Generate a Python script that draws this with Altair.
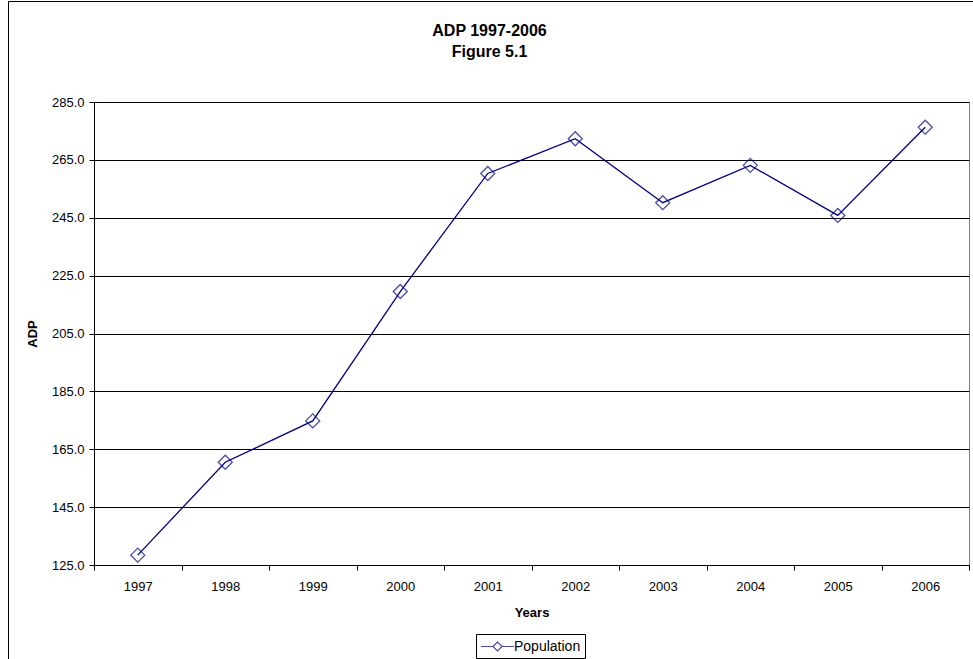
import altair as alt
import pandas as pd

# Average daily population by year
years = ["1997", "1998", "1999", "2000", "2001", "2002", "2003", "2004", "2005", "2006"]
adp = [128.4, 160.5, 174.8, 219.5, 260.3, 272.3, 250.2, 263.1, 245.8, 276.3]
series = ["Population"] * len(years)

y_ticks = [125, 145, 165, 185, 205, 225, 245, 265, 285]

df = pd.DataFrame({"Year": years, "ADP": adp, "Series": series})

FONT = "Liberation Sans"
NAVY = "#000080"

# legend glyph: a line segment with an open diamond in the middle,
# drawn wider than the nominal symbol box so the row stays compact
legend_glyph = "M-2.2,0L-0.6,0M0.6,0L2.2,0M-0.6,0L0,-0.6L0.6,0L0,0.6Z"

x_enc = alt.X(
    "Year:N",
    sort=years,
    scale=alt.Scale(paddingInner=0, paddingOuter=0),
    axis=alt.Axis(
        title="Years",
        labelAngle=0,
        tickBand="extent",
        grid=False,
        tickSize=5,
        labelPadding=10,
        titlePadding=13,
        labelFontSize=13,
        titleFontSize=13,
    ),
)
y_enc = alt.Y(
    "ADP:Q",
    scale=alt.Scale(domain=[125, 285], nice=False, zero=False),
    axis=alt.Axis(
        title="ADP",
        values=y_ticks,
        format=".1f",
        tickSize=5,
        labelPadding=5,
        titlePadding=12,
        labelFontSize=13,
        titleFontSize=13,
    ),
)

base = alt.Chart(df)

line = base.mark_line(strokeWidth=1.3, color=NAVY).encode(x=x_enc, y=y_enc)
points = base.mark_point(shape="diamond", filled=False, size=196, strokeWidth=1.3).encode(
    x=x_enc,
    y=y_enc,
    color=alt.Color(
        "Series:N",
        scale=alt.Scale(range=[NAVY]),
        legend=alt.Legend(
            title=None,
            orient="none",
            legendX=382,
            legendY=532,
            symbolType=legend_glyph,
            symbolSize=225,
            symbolOffset=9,
            labelOffset=8,
            symbolStrokeWidth=1.2,
            labelFontSize=14,
            labelFont=FONT,
            labelColor="#000000",
            strokeColor="#000000",
            padding=4,
        ),
    ),
)

# outer chart-area border
frame = alt.Chart(alt.Data(values=[{"f": 0}])).mark_rect(
    fill=None, stroke="#000000", strokeWidth=1
).encode(
    x=alt.value(-85.5), x2=alt.value(1200), y=alt.value(-100.5), y2=alt.value(900)
)

chart = (
    alt.layer(frame, line, points)
    .properties(
        width=875,
        height=463,
        autosize=alt.AutoSizeParams(type="none"),
        padding={"left": 94, "top": 102, "right": 4, "bottom": 94},
        title=alt.Title(
            ["ADP 1997-2006", "Figure 5.1"],
            anchor="middle",
            dx=-42,
            fontSize=16,
            font=FONT,
            fontWeight="bold",
            lineHeight=21,
            offset=-59,
        ),
    )
    .configure(font=FONT)
    .configure_view(stroke="#808080", strokeWidth=1)
    .configure_axis(
        labelFont=FONT,
        titleFont=FONT,
        labelColor="#000000",
        titleColor="#000000",
        domainColor="#000000",
        tickColor="#000000",
        gridColor="#000000",
        gridWidth=1,
        titleFontWeight="bold",
    )
)

chart.save("out.html", embed_options={"renderer": "svg", "actions": False})
